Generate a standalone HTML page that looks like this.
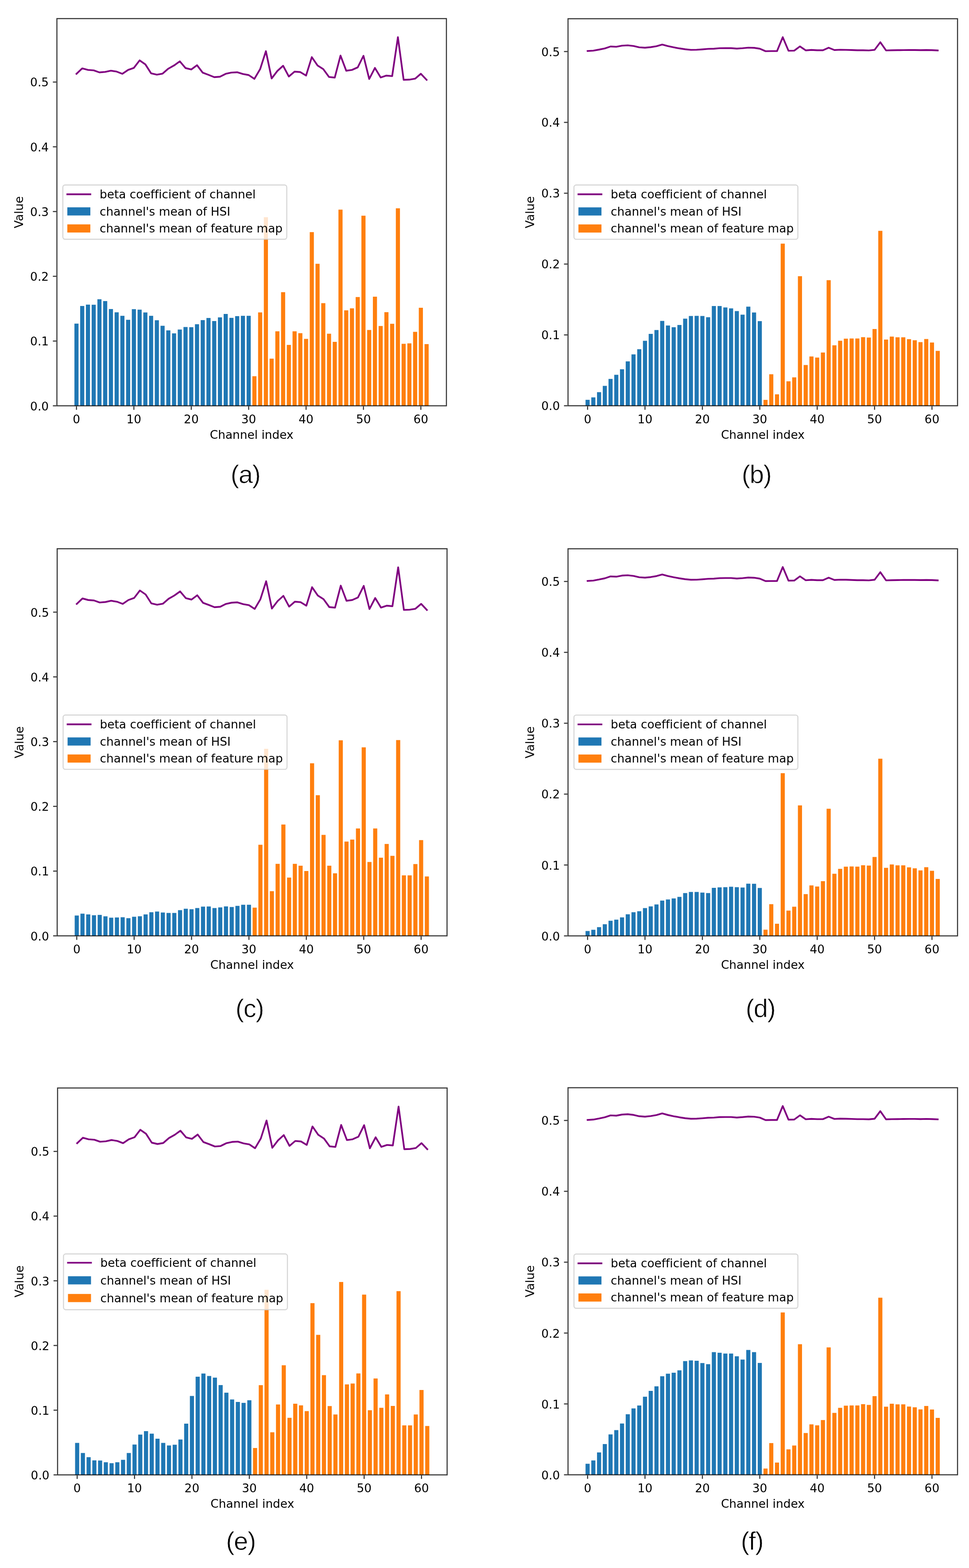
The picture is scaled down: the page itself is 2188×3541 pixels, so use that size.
<!DOCTYPE html>
<html><head><meta charset="utf-8"><title>Channel statistics</title>
<style>
html,body{margin:0;padding:0;background:#fff;}
body{width:2188px;height:3541px;overflow:hidden;}
svg{display:block;}
svg text{font-family:"DejaVu Sans","Liberation Sans",sans-serif;font-size:26.4px;fill:#000;font-variant-ligatures:none;}
svg text.cap{font-family:"Liberation Sans","DejaVu Sans",sans-serif;font-size:58px;letter-spacing:-1.4px;stroke:#fff;stroke-width:0.8px;}
</style></head>
<body>
<svg width="2188" height="3541" viewBox="0 0 2188 3541">
<rect width="2188" height="3541" fill="#fff"/>
<rect x="168.05" y="730.8" width="9.3" height="185.6" fill="#1f77b4"/>
<rect x="181.01" y="691" width="9.3" height="225.4" fill="#1f77b4"/>
<rect x="193.97" y="687.9" width="9.3" height="228.5" fill="#1f77b4"/>
<rect x="206.93" y="688.2" width="9.3" height="228.2" fill="#1f77b4"/>
<rect x="219.89" y="675.8" width="9.3" height="240.6" fill="#1f77b4"/>
<rect x="232.85" y="679.9" width="9.3" height="236.5" fill="#1f77b4"/>
<rect x="245.81" y="697.9" width="9.3" height="218.5" fill="#1f77b4"/>
<rect x="258.77" y="705.3" width="9.3" height="211.1" fill="#1f77b4"/>
<rect x="271.73" y="713.2" width="9.3" height="203.2" fill="#1f77b4"/>
<rect x="284.69" y="722.2" width="9.3" height="194.2" fill="#1f77b4"/>
<rect x="297.65" y="698.2" width="9.3" height="218.2" fill="#1f77b4"/>
<rect x="310.61" y="699.3" width="9.3" height="217.1" fill="#1f77b4"/>
<rect x="323.57" y="705.6" width="9.3" height="210.8" fill="#1f77b4"/>
<rect x="336.53" y="713.2" width="9.3" height="203.2" fill="#1f77b4"/>
<rect x="349.49" y="723.2" width="9.3" height="193.2" fill="#1f77b4"/>
<rect x="362.45" y="735.7" width="9.3" height="180.7" fill="#1f77b4"/>
<rect x="375.41" y="746.1" width="9.3" height="170.3" fill="#1f77b4"/>
<rect x="388.37" y="752.8" width="9.3" height="163.6" fill="#1f77b4"/>
<rect x="401.33" y="744.2" width="9.3" height="172.2" fill="#1f77b4"/>
<rect x="414.29" y="738.5" width="9.3" height="177.9" fill="#1f77b4"/>
<rect x="427.25" y="738.9" width="9.3" height="177.5" fill="#1f77b4"/>
<rect x="440.21" y="732.2" width="9.3" height="184.2" fill="#1f77b4"/>
<rect x="453.17" y="722.9" width="9.3" height="193.5" fill="#1f77b4"/>
<rect x="466.13" y="718.1" width="9.3" height="198.3" fill="#1f77b4"/>
<rect x="479.09" y="725" width="9.3" height="191.4" fill="#1f77b4"/>
<rect x="492.05" y="716.7" width="9.3" height="199.7" fill="#1f77b4"/>
<rect x="505.01" y="709" width="9.3" height="207.4" fill="#1f77b4"/>
<rect x="517.97" y="717.8" width="9.3" height="198.6" fill="#1f77b4"/>
<rect x="530.93" y="713.9" width="9.3" height="202.5" fill="#1f77b4"/>
<rect x="543.89" y="713.2" width="9.3" height="203.2" fill="#1f77b4"/>
<rect x="556.85" y="713.2" width="9.3" height="203.2" fill="#1f77b4"/>
<rect x="569.81" y="849.6" width="9.3" height="66.8" fill="#ff7f0e"/>
<rect x="582.77" y="705.5" width="9.3" height="210.9" fill="#ff7f0e"/>
<rect x="595.73" y="490.5" width="9.3" height="425.9" fill="#ff7f0e"/>
<rect x="608.69" y="809.9" width="9.3" height="106.5" fill="#ff7f0e"/>
<rect x="621.65" y="748.2" width="9.3" height="168.2" fill="#ff7f0e"/>
<rect x="634.61" y="659.8" width="9.3" height="256.6" fill="#ff7f0e"/>
<rect x="647.57" y="778.9" width="9.3" height="137.5" fill="#ff7f0e"/>
<rect x="660.53" y="748.2" width="9.3" height="168.2" fill="#ff7f0e"/>
<rect x="673.49" y="752.4" width="9.3" height="164" fill="#ff7f0e"/>
<rect x="686.45" y="765.3" width="9.3" height="151.1" fill="#ff7f0e"/>
<rect x="699.41" y="524.2" width="9.3" height="392.2" fill="#ff7f0e"/>
<rect x="712.37" y="595.7" width="9.3" height="320.7" fill="#ff7f0e"/>
<rect x="725.33" y="684.6" width="9.3" height="231.8" fill="#ff7f0e"/>
<rect x="738.29" y="753.6" width="9.3" height="162.8" fill="#ff7f0e"/>
<rect x="751.25" y="772" width="9.3" height="144.4" fill="#ff7f0e"/>
<rect x="764.21" y="473.4" width="9.3" height="443" fill="#ff7f0e"/>
<rect x="777.17" y="700.8" width="9.3" height="215.6" fill="#ff7f0e"/>
<rect x="790.13" y="696.3" width="9.3" height="220.1" fill="#ff7f0e"/>
<rect x="803.09" y="670.8" width="9.3" height="245.6" fill="#ff7f0e"/>
<rect x="816.05" y="487.1" width="9.3" height="429.3" fill="#ff7f0e"/>
<rect x="829.01" y="745.2" width="9.3" height="171.2" fill="#ff7f0e"/>
<rect x="841.97" y="670" width="9.3" height="246.4" fill="#ff7f0e"/>
<rect x="854.93" y="736.2" width="9.3" height="180.2" fill="#ff7f0e"/>
<rect x="867.89" y="705" width="9.3" height="211.4" fill="#ff7f0e"/>
<rect x="880.85" y="731.2" width="9.3" height="185.2" fill="#ff7f0e"/>
<rect x="893.81" y="470.4" width="9.3" height="446" fill="#ff7f0e"/>
<rect x="906.77" y="776.4" width="9.3" height="140" fill="#ff7f0e"/>
<rect x="919.73" y="775.4" width="9.3" height="141" fill="#ff7f0e"/>
<rect x="932.69" y="749.4" width="9.3" height="167" fill="#ff7f0e"/>
<rect x="945.65" y="695" width="9.3" height="221.4" fill="#ff7f0e"/>
<rect x="958.61" y="777.1" width="9.3" height="139.3" fill="#ff7f0e"/>
<polyline points="172.7,166.7 185.66,154.4 198.62,157.9 211.58,158.9 224.54,163.5 237.5,162.4 250.46,159.6 263.42,161.7 276.38,166.7 289.34,157.9 302.3,153.3 315.26,136.4 328.22,145.4 341.18,165.6 354.14,168.6 367.1,166.3 380.06,155.1 393.02,147.8 405.98,138.5 418.94,153.75 431.9,156.9 444.86,147.2 457.82,164.2 470.78,169 483.74,174.2 496.7,173.2 509.66,166.7 522.62,163.9 535.58,163.2 548.54,167.2 561.5,169.5 574.46,178.1 587.42,156.1 600.38,115.5 613.34,177.2 626.3,160.3 639.26,148.5 652.22,172.8 665.18,161.7 678.14,162.8 691.1,170.7 704.06,129 717.02,147.8 729.98,156.1 742.94,173.9 755.9,175.2 768.86,125.5 781.82,159.7 794.78,157.9 807.74,152.1 820.7,126 833.66,178.3 846.62,153.4 859.58,175 872.54,170.7 885.5,171.9 898.46,84 911.42,180.3 924.38,179.8 937.34,177.7 950.3,166.6 963.26,180.3" fill="none" stroke="#800080" stroke-width="3.9" stroke-linejoin="round" stroke-linecap="square"/>
<rect x="128.5" y="42" width="879.5" height="874.4" fill="none" stroke="#000" stroke-opacity="0.8" stroke-width="2.4" stroke-linejoin="miter"/>
<line x1="172.7" y1="917.6" x2="172.7" y2="925.5" stroke="#000" stroke-opacity="0.8" stroke-width="2.4"/>
<text x="172.7" y="956" text-anchor="middle">0</text>
<line x1="302.3" y1="917.6" x2="302.3" y2="925.5" stroke="#000" stroke-opacity="0.8" stroke-width="2.4"/>
<text x="302.3" y="956" text-anchor="middle">10</text>
<line x1="431.9" y1="917.6" x2="431.9" y2="925.5" stroke="#000" stroke-opacity="0.8" stroke-width="2.4"/>
<text x="431.9" y="956" text-anchor="middle">20</text>
<line x1="561.5" y1="917.6" x2="561.5" y2="925.5" stroke="#000" stroke-opacity="0.8" stroke-width="2.4"/>
<text x="561.5" y="956" text-anchor="middle">30</text>
<line x1="691.1" y1="917.6" x2="691.1" y2="925.5" stroke="#000" stroke-opacity="0.8" stroke-width="2.4"/>
<text x="691.1" y="956" text-anchor="middle">40</text>
<line x1="820.7" y1="917.6" x2="820.7" y2="925.5" stroke="#000" stroke-opacity="0.8" stroke-width="2.4"/>
<text x="820.7" y="956" text-anchor="middle">50</text>
<line x1="950.3" y1="917.6" x2="950.3" y2="925.5" stroke="#000" stroke-opacity="0.8" stroke-width="2.4"/>
<text x="950.3" y="956" text-anchor="middle">60</text>
<line x1="119.4" y1="916.4" x2="127.3" y2="916.4" stroke="#000" stroke-opacity="0.8" stroke-width="2.4"/>
<text x="110.1" y="926.5" text-anchor="end">0.0</text>
<line x1="119.4" y1="770.18" x2="127.3" y2="770.18" stroke="#000" stroke-opacity="0.8" stroke-width="2.4"/>
<text x="110.1" y="780.28" text-anchor="end">0.1</text>
<line x1="119.4" y1="623.96" x2="127.3" y2="623.96" stroke="#000" stroke-opacity="0.8" stroke-width="2.4"/>
<text x="110.1" y="634.06" text-anchor="end">0.2</text>
<line x1="119.4" y1="477.74" x2="127.3" y2="477.74" stroke="#000" stroke-opacity="0.8" stroke-width="2.4"/>
<text x="110.1" y="487.84" text-anchor="end">0.3</text>
<line x1="119.4" y1="331.52" x2="127.3" y2="331.52" stroke="#000" stroke-opacity="0.8" stroke-width="2.4"/>
<text x="110.1" y="341.62" text-anchor="end">0.4</text>
<line x1="119.4" y1="185.3" x2="127.3" y2="185.3" stroke="#000" stroke-opacity="0.8" stroke-width="2.4"/>
<text x="110.1" y="195.4" text-anchor="end">0.5</text>
<text x="568.25" y="991" text-anchor="middle">Channel index</text>
<text transform="translate(51.9 479.2) rotate(-90)" text-anchor="middle">Value</text>
<rect x="141.9" y="417.7" width="505.6" height="122.6" rx="5.2" ry="5.2" fill="#fff" fill-opacity="0.8" stroke="#ccc" stroke-opacity="0.8" stroke-width="2.4"/>
<line x1="152" y1="438.7" x2="204" y2="438.7" stroke="#800080" stroke-width="3.9" stroke-linecap="square"/>
<rect x="152" y="468.2" width="52" height="18.4" fill="#1f77b4"/>
<rect x="152" y="506.7" width="52" height="18.4" fill="#ff7f0e"/>
<text x="224.9" y="448.2">beta coefficient of channel</text>
<text x="224.9" y="486.6">channel's mean of HSI</text>
<text x="224.9" y="525.1">channel's mean of feature map</text>
<text class="cap" x="554.2" y="1090.6" text-anchor="middle">(a)</text>
<rect x="1322.15" y="902.9" width="9.3" height="13.4" fill="#1f77b4"/>
<rect x="1335.11" y="897.4" width="9.3" height="18.9" fill="#1f77b4"/>
<rect x="1348.07" y="885.6" width="9.3" height="30.7" fill="#1f77b4"/>
<rect x="1361.03" y="871.4" width="9.3" height="44.9" fill="#1f77b4"/>
<rect x="1373.99" y="855.7" width="9.3" height="60.6" fill="#1f77b4"/>
<rect x="1386.95" y="846.4" width="9.3" height="69.9" fill="#1f77b4"/>
<rect x="1399.91" y="833.9" width="9.3" height="82.4" fill="#1f77b4"/>
<rect x="1412.87" y="816.1" width="9.3" height="100.2" fill="#1f77b4"/>
<rect x="1425.83" y="800.3" width="9.3" height="116" fill="#1f77b4"/>
<rect x="1438.79" y="788.6" width="9.3" height="127.7" fill="#1f77b4"/>
<rect x="1451.75" y="769.6" width="9.3" height="146.7" fill="#1f77b4"/>
<rect x="1464.71" y="754" width="9.3" height="162.3" fill="#1f77b4"/>
<rect x="1477.67" y="745.3" width="9.3" height="171" fill="#1f77b4"/>
<rect x="1490.63" y="724.7" width="9.3" height="191.6" fill="#1f77b4"/>
<rect x="1503.59" y="735.1" width="9.3" height="181.2" fill="#1f77b4"/>
<rect x="1516.55" y="739" width="9.3" height="177.3" fill="#1f77b4"/>
<rect x="1529.51" y="733.9" width="9.3" height="182.4" fill="#1f77b4"/>
<rect x="1542.47" y="719.6" width="9.3" height="196.7" fill="#1f77b4"/>
<rect x="1555.43" y="713.6" width="9.3" height="202.7" fill="#1f77b4"/>
<rect x="1568.39" y="713.3" width="9.3" height="203" fill="#1f77b4"/>
<rect x="1581.35" y="713.6" width="9.3" height="202.7" fill="#1f77b4"/>
<rect x="1594.31" y="716.4" width="9.3" height="199.9" fill="#1f77b4"/>
<rect x="1607.27" y="691.1" width="9.3" height="225.2" fill="#1f77b4"/>
<rect x="1620.23" y="691.1" width="9.3" height="225.2" fill="#1f77b4"/>
<rect x="1633.19" y="694.3" width="9.3" height="222" fill="#1f77b4"/>
<rect x="1646.15" y="696.4" width="9.3" height="219.9" fill="#1f77b4"/>
<rect x="1659.11" y="702.5" width="9.3" height="213.8" fill="#1f77b4"/>
<rect x="1672.07" y="710.6" width="9.3" height="205.7" fill="#1f77b4"/>
<rect x="1685.03" y="692.5" width="9.3" height="223.8" fill="#1f77b4"/>
<rect x="1697.99" y="705.7" width="9.3" height="210.6" fill="#1f77b4"/>
<rect x="1710.95" y="725.2" width="9.3" height="191.1" fill="#1f77b4"/>
<rect x="1723.91" y="903" width="9.3" height="13.3" fill="#ff7f0e"/>
<rect x="1736.87" y="845.2" width="9.3" height="71.1" fill="#ff7f0e"/>
<rect x="1749.83" y="890.5" width="9.3" height="25.8" fill="#ff7f0e"/>
<rect x="1762.79" y="550.2" width="9.3" height="366.1" fill="#ff7f0e"/>
<rect x="1775.75" y="861.1" width="9.3" height="55.2" fill="#ff7f0e"/>
<rect x="1788.71" y="852.2" width="9.3" height="64.1" fill="#ff7f0e"/>
<rect x="1801.67" y="623.7" width="9.3" height="292.6" fill="#ff7f0e"/>
<rect x="1814.63" y="824.3" width="9.3" height="92" fill="#ff7f0e"/>
<rect x="1827.59" y="805" width="9.3" height="111.3" fill="#ff7f0e"/>
<rect x="1840.55" y="807.5" width="9.3" height="108.8" fill="#ff7f0e"/>
<rect x="1853.51" y="796.1" width="9.3" height="120.2" fill="#ff7f0e"/>
<rect x="1866.47" y="632.7" width="9.3" height="283.6" fill="#ff7f0e"/>
<rect x="1879.43" y="779.8" width="9.3" height="136.5" fill="#ff7f0e"/>
<rect x="1892.39" y="769.5" width="9.3" height="146.8" fill="#ff7f0e"/>
<rect x="1905.35" y="764.8" width="9.3" height="151.5" fill="#ff7f0e"/>
<rect x="1918.31" y="764.4" width="9.3" height="151.9" fill="#ff7f0e"/>
<rect x="1931.27" y="764.4" width="9.3" height="151.9" fill="#ff7f0e"/>
<rect x="1944.23" y="761.4" width="9.3" height="154.9" fill="#ff7f0e"/>
<rect x="1957.19" y="762.3" width="9.3" height="154" fill="#ff7f0e"/>
<rect x="1970.15" y="743" width="9.3" height="173.3" fill="#ff7f0e"/>
<rect x="1983.11" y="521.3" width="9.3" height="395" fill="#ff7f0e"/>
<rect x="1996.07" y="766.8" width="9.3" height="149.5" fill="#ff7f0e"/>
<rect x="2009.03" y="760.1" width="9.3" height="156.2" fill="#ff7f0e"/>
<rect x="2021.99" y="761.7" width="9.3" height="154.6" fill="#ff7f0e"/>
<rect x="2034.95" y="761.7" width="9.3" height="154.6" fill="#ff7f0e"/>
<rect x="2047.91" y="765.9" width="9.3" height="150.4" fill="#ff7f0e"/>
<rect x="2060.87" y="768.4" width="9.3" height="147.9" fill="#ff7f0e"/>
<rect x="2073.83" y="772.6" width="9.3" height="143.7" fill="#ff7f0e"/>
<rect x="2086.79" y="765.6" width="9.3" height="150.7" fill="#ff7f0e"/>
<rect x="2099.75" y="773.5" width="9.3" height="142.8" fill="#ff7f0e"/>
<rect x="2112.71" y="792.4" width="9.3" height="123.9" fill="#ff7f0e"/>
<polyline points="1326.8,115.2 1339.76,114.4 1352.72,112 1365.68,109.3 1378.64,105 1391.6,105.6 1404.56,103.1 1417.52,102.4 1430.48,103.9 1443.44,106.9 1456.4,107.8 1469.36,106.5 1482.32,104.3 1495.28,100.6 1508.24,104.1 1521.2,106.9 1534.16,109.3 1547.12,111.3 1560.08,112.6 1573.04,112.4 1586,111.5 1598.96,110.4 1611.92,110 1624.88,108.9 1637.84,108.7 1650.8,108.7 1663.76,109.8 1676.72,108.9 1689.68,107.6 1702.64,108 1715.6,110 1728.56,115.6 1741.52,115.4 1754.48,115.4 1767.44,83.9 1780.4,114.6 1793.36,114.4 1806.32,104.8 1819.28,113.7 1832.24,112.8 1845.2,113.5 1858.16,113.5 1871.12,107.8 1884.08,113 1897.04,112.4 1910,112.6 1922.96,113 1935.92,113.5 1948.88,113.5 1961.84,113.9 1974.8,112.6 1987.76,95.4 2000.72,113.9 2013.68,113.5 2026.64,113.3 2039.6,113.1 2052.56,113 2065.52,113 2078.48,113.3 2091.44,113 2104.4,113.3 2117.36,113.9" fill="none" stroke="#800080" stroke-width="3.9" stroke-linejoin="round" stroke-linecap="square"/>
<rect x="1282.6" y="42.3" width="879.5" height="874" fill="none" stroke="#000" stroke-opacity="0.8" stroke-width="2.4" stroke-linejoin="miter"/>
<line x1="1326.8" y1="917.5" x2="1326.8" y2="925.4" stroke="#000" stroke-opacity="0.8" stroke-width="2.4"/>
<text x="1326.8" y="955.9" text-anchor="middle">0</text>
<line x1="1456.4" y1="917.5" x2="1456.4" y2="925.4" stroke="#000" stroke-opacity="0.8" stroke-width="2.4"/>
<text x="1456.4" y="955.9" text-anchor="middle">10</text>
<line x1="1586" y1="917.5" x2="1586" y2="925.4" stroke="#000" stroke-opacity="0.8" stroke-width="2.4"/>
<text x="1586" y="955.9" text-anchor="middle">20</text>
<line x1="1715.6" y1="917.5" x2="1715.6" y2="925.4" stroke="#000" stroke-opacity="0.8" stroke-width="2.4"/>
<text x="1715.6" y="955.9" text-anchor="middle">30</text>
<line x1="1845.2" y1="917.5" x2="1845.2" y2="925.4" stroke="#000" stroke-opacity="0.8" stroke-width="2.4"/>
<text x="1845.2" y="955.9" text-anchor="middle">40</text>
<line x1="1974.8" y1="917.5" x2="1974.8" y2="925.4" stroke="#000" stroke-opacity="0.8" stroke-width="2.4"/>
<text x="1974.8" y="955.9" text-anchor="middle">50</text>
<line x1="2104.4" y1="917.5" x2="2104.4" y2="925.4" stroke="#000" stroke-opacity="0.8" stroke-width="2.4"/>
<text x="2104.4" y="955.9" text-anchor="middle">60</text>
<line x1="1273.5" y1="916.3" x2="1281.4" y2="916.3" stroke="#000" stroke-opacity="0.8" stroke-width="2.4"/>
<text x="1264.2" y="926.4" text-anchor="end">0.0</text>
<line x1="1273.5" y1="756.32" x2="1281.4" y2="756.32" stroke="#000" stroke-opacity="0.8" stroke-width="2.4"/>
<text x="1264.2" y="766.42" text-anchor="end">0.1</text>
<line x1="1273.5" y1="596.34" x2="1281.4" y2="596.34" stroke="#000" stroke-opacity="0.8" stroke-width="2.4"/>
<text x="1264.2" y="606.44" text-anchor="end">0.2</text>
<line x1="1273.5" y1="436.36" x2="1281.4" y2="436.36" stroke="#000" stroke-opacity="0.8" stroke-width="2.4"/>
<text x="1264.2" y="446.46" text-anchor="end">0.3</text>
<line x1="1273.5" y1="276.38" x2="1281.4" y2="276.38" stroke="#000" stroke-opacity="0.8" stroke-width="2.4"/>
<text x="1264.2" y="286.48" text-anchor="end">0.4</text>
<line x1="1273.5" y1="116.4" x2="1281.4" y2="116.4" stroke="#000" stroke-opacity="0.8" stroke-width="2.4"/>
<text x="1264.2" y="126.5" text-anchor="end">0.5</text>
<text x="1722.35" y="990.9" text-anchor="middle">Channel index</text>
<text transform="translate(1206 479.3) rotate(-90)" text-anchor="middle">Value</text>
<rect x="1296" y="417.8" width="505.6" height="122.6" rx="5.2" ry="5.2" fill="#fff" fill-opacity="0.8" stroke="#ccc" stroke-opacity="0.8" stroke-width="2.4"/>
<line x1="1306.1" y1="438.8" x2="1358.1" y2="438.8" stroke="#800080" stroke-width="3.9" stroke-linecap="square"/>
<rect x="1306.1" y="468.3" width="52" height="18.4" fill="#1f77b4"/>
<rect x="1306.1" y="506.8" width="52" height="18.4" fill="#ff7f0e"/>
<text x="1379" y="448.3">beta coefficient of channel</text>
<text x="1379" y="486.7">channel's mean of HSI</text>
<text x="1379" y="525.2">channel's mean of feature map</text>
<text class="cap" x="1708.1" y="1090.6" text-anchor="middle">(b)</text>
<rect x="168.65" y="2067.5" width="9.3" height="45.9" fill="#1f77b4"/>
<rect x="181.61" y="2063.3" width="9.3" height="50.1" fill="#1f77b4"/>
<rect x="194.57" y="2065" width="9.3" height="48.4" fill="#1f77b4"/>
<rect x="207.53" y="2066.9" width="9.3" height="46.5" fill="#1f77b4"/>
<rect x="220.49" y="2066.1" width="9.3" height="47.3" fill="#1f77b4"/>
<rect x="233.45" y="2069.3" width="9.3" height="44.1" fill="#1f77b4"/>
<rect x="246.41" y="2072.4" width="9.3" height="41" fill="#1f77b4"/>
<rect x="259.37" y="2071.9" width="9.3" height="41.5" fill="#1f77b4"/>
<rect x="272.33" y="2071.4" width="9.3" height="42" fill="#1f77b4"/>
<rect x="285.29" y="2073.5" width="9.3" height="39.9" fill="#1f77b4"/>
<rect x="298.25" y="2070.3" width="9.3" height="43.1" fill="#1f77b4"/>
<rect x="311.21" y="2069.2" width="9.3" height="44.2" fill="#1f77b4"/>
<rect x="324.17" y="2065" width="9.3" height="48.4" fill="#1f77b4"/>
<rect x="337.13" y="2060.1" width="9.3" height="53.3" fill="#1f77b4"/>
<rect x="350.09" y="2058.5" width="9.3" height="54.9" fill="#1f77b4"/>
<rect x="363.05" y="2060.7" width="9.3" height="52.7" fill="#1f77b4"/>
<rect x="376.01" y="2061.7" width="9.3" height="51.7" fill="#1f77b4"/>
<rect x="388.97" y="2061.7" width="9.3" height="51.7" fill="#1f77b4"/>
<rect x="401.93" y="2055.4" width="9.3" height="58" fill="#1f77b4"/>
<rect x="414.89" y="2052.2" width="9.3" height="61.2" fill="#1f77b4"/>
<rect x="427.85" y="2053.3" width="9.3" height="60.1" fill="#1f77b4"/>
<rect x="440.81" y="2050.6" width="9.3" height="62.8" fill="#1f77b4"/>
<rect x="453.77" y="2047.4" width="9.3" height="66" fill="#1f77b4"/>
<rect x="466.73" y="2047.1" width="9.3" height="66.3" fill="#1f77b4"/>
<rect x="479.69" y="2050.6" width="9.3" height="62.8" fill="#1f77b4"/>
<rect x="492.65" y="2049.2" width="9.3" height="64.2" fill="#1f77b4"/>
<rect x="505.61" y="2046.9" width="9.3" height="66.5" fill="#1f77b4"/>
<rect x="518.57" y="2048.3" width="9.3" height="65.1" fill="#1f77b4"/>
<rect x="531.53" y="2045.7" width="9.3" height="67.7" fill="#1f77b4"/>
<rect x="544.49" y="2043.2" width="9.3" height="70.2" fill="#1f77b4"/>
<rect x="557.45" y="2043.2" width="9.3" height="70.2" fill="#1f77b4"/>
<rect x="570.41" y="2049.7" width="9.3" height="63.7" fill="#ff7f0e"/>
<rect x="583.37" y="1907.7" width="9.3" height="205.7" fill="#ff7f0e"/>
<rect x="596.33" y="1691" width="9.3" height="422.4" fill="#ff7f0e"/>
<rect x="609.29" y="2012.5" width="9.3" height="100.9" fill="#ff7f0e"/>
<rect x="622.25" y="1950.8" width="9.3" height="162.6" fill="#ff7f0e"/>
<rect x="635.21" y="1862" width="9.3" height="251.4" fill="#ff7f0e"/>
<rect x="648.17" y="1981.8" width="9.3" height="131.6" fill="#ff7f0e"/>
<rect x="661.13" y="1950.8" width="9.3" height="162.6" fill="#ff7f0e"/>
<rect x="674.09" y="1955" width="9.3" height="158.4" fill="#ff7f0e"/>
<rect x="687.05" y="1967" width="9.3" height="146.4" fill="#ff7f0e"/>
<rect x="700.01" y="1723.7" width="9.3" height="389.7" fill="#ff7f0e"/>
<rect x="712.97" y="1795.8" width="9.3" height="317.6" fill="#ff7f0e"/>
<rect x="725.93" y="1885.4" width="9.3" height="228" fill="#ff7f0e"/>
<rect x="738.89" y="1955" width="9.3" height="158.4" fill="#ff7f0e"/>
<rect x="751.85" y="1972.2" width="9.3" height="141.2" fill="#ff7f0e"/>
<rect x="764.81" y="1671.8" width="9.3" height="441.6" fill="#ff7f0e"/>
<rect x="777.77" y="1900.5" width="9.3" height="212.9" fill="#ff7f0e"/>
<rect x="790.73" y="1896" width="9.3" height="217.4" fill="#ff7f0e"/>
<rect x="803.69" y="1870.9" width="9.3" height="242.5" fill="#ff7f0e"/>
<rect x="816.65" y="1687.7" width="9.3" height="425.7" fill="#ff7f0e"/>
<rect x="829.61" y="1946.6" width="9.3" height="166.8" fill="#ff7f0e"/>
<rect x="842.57" y="1870.9" width="9.3" height="242.5" fill="#ff7f0e"/>
<rect x="855.53" y="1936.9" width="9.3" height="176.5" fill="#ff7f0e"/>
<rect x="868.49" y="1905.9" width="9.3" height="207.5" fill="#ff7f0e"/>
<rect x="881.45" y="1932.7" width="9.3" height="180.7" fill="#ff7f0e"/>
<rect x="894.41" y="1671.3" width="9.3" height="442.1" fill="#ff7f0e"/>
<rect x="907.37" y="1976.8" width="9.3" height="136.6" fill="#ff7f0e"/>
<rect x="920.33" y="1976.8" width="9.3" height="136.6" fill="#ff7f0e"/>
<rect x="933.29" y="1951.3" width="9.3" height="162.1" fill="#ff7f0e"/>
<rect x="946.25" y="1897.2" width="9.3" height="216.2" fill="#ff7f0e"/>
<rect x="959.21" y="1979.3" width="9.3" height="134.1" fill="#ff7f0e"/>
<polyline points="173.3,1363.8 186.26,1351.5 199.22,1355 212.18,1356 225.14,1360.6 238.1,1359.5 251.06,1356.7 264.02,1358.8 276.98,1363.8 289.94,1355 302.9,1350.4 315.86,1333.51 328.82,1342.51 341.78,1362.7 354.74,1365.7 367.7,1363.4 380.66,1352.2 393.62,1344.91 406.58,1335.61 419.54,1350.85 432.5,1354 445.46,1344.31 458.42,1361.3 471.38,1366.1 484.34,1371.3 497.3,1370.3 510.26,1363.8 523.22,1361 536.18,1360.3 549.14,1364.3 562.1,1366.6 575.06,1375.2 588.02,1353.2 600.98,1312.61 613.94,1374.3 626.9,1357.4 639.86,1345.61 652.82,1369.9 665.78,1358.8 678.74,1359.9 691.7,1367.8 704.66,1326.11 717.62,1344.91 730.58,1353.2 743.54,1371 756.5,1372.3 769.46,1322.61 782.42,1356.8 795.38,1355 808.34,1349.2 821.3,1323.11 834.26,1375.4 847.22,1350.5 860.18,1372.1 873.14,1367.8 886.1,1369 899.06,1281.11 912.02,1377.4 924.98,1376.9 937.94,1374.8 950.9,1363.7 963.86,1377.4" fill="none" stroke="#800080" stroke-width="3.9" stroke-linejoin="round" stroke-linecap="square"/>
<rect x="129.1" y="1239.2" width="880.3" height="874.2" fill="none" stroke="#000" stroke-opacity="0.8" stroke-width="2.4" stroke-linejoin="miter"/>
<line x1="173.3" y1="2114.6" x2="173.3" y2="2122.5" stroke="#000" stroke-opacity="0.8" stroke-width="2.4"/>
<text x="173.3" y="2153" text-anchor="middle">0</text>
<line x1="302.9" y1="2114.6" x2="302.9" y2="2122.5" stroke="#000" stroke-opacity="0.8" stroke-width="2.4"/>
<text x="302.9" y="2153" text-anchor="middle">10</text>
<line x1="432.5" y1="2114.6" x2="432.5" y2="2122.5" stroke="#000" stroke-opacity="0.8" stroke-width="2.4"/>
<text x="432.5" y="2153" text-anchor="middle">20</text>
<line x1="562.1" y1="2114.6" x2="562.1" y2="2122.5" stroke="#000" stroke-opacity="0.8" stroke-width="2.4"/>
<text x="562.1" y="2153" text-anchor="middle">30</text>
<line x1="691.7" y1="2114.6" x2="691.7" y2="2122.5" stroke="#000" stroke-opacity="0.8" stroke-width="2.4"/>
<text x="691.7" y="2153" text-anchor="middle">40</text>
<line x1="821.3" y1="2114.6" x2="821.3" y2="2122.5" stroke="#000" stroke-opacity="0.8" stroke-width="2.4"/>
<text x="821.3" y="2153" text-anchor="middle">50</text>
<line x1="950.9" y1="2114.6" x2="950.9" y2="2122.5" stroke="#000" stroke-opacity="0.8" stroke-width="2.4"/>
<text x="950.9" y="2153" text-anchor="middle">60</text>
<line x1="120" y1="2113.4" x2="127.9" y2="2113.4" stroke="#000" stroke-opacity="0.8" stroke-width="2.4"/>
<text x="110.7" y="2123.5" text-anchor="end">0.0</text>
<line x1="120" y1="1967.2" x2="127.9" y2="1967.2" stroke="#000" stroke-opacity="0.8" stroke-width="2.4"/>
<text x="110.7" y="1977.3" text-anchor="end">0.1</text>
<line x1="120" y1="1821" x2="127.9" y2="1821" stroke="#000" stroke-opacity="0.8" stroke-width="2.4"/>
<text x="110.7" y="1831.1" text-anchor="end">0.2</text>
<line x1="120" y1="1674.8" x2="127.9" y2="1674.8" stroke="#000" stroke-opacity="0.8" stroke-width="2.4"/>
<text x="110.7" y="1684.9" text-anchor="end">0.3</text>
<line x1="120" y1="1528.6" x2="127.9" y2="1528.6" stroke="#000" stroke-opacity="0.8" stroke-width="2.4"/>
<text x="110.7" y="1538.7" text-anchor="end">0.4</text>
<line x1="120" y1="1382.4" x2="127.9" y2="1382.4" stroke="#000" stroke-opacity="0.8" stroke-width="2.4"/>
<text x="110.7" y="1392.5" text-anchor="end">0.5</text>
<text x="569.25" y="2188" text-anchor="middle">Channel index</text>
<text transform="translate(52.5 1676.3) rotate(-90)" text-anchor="middle">Value</text>
<rect x="142.5" y="1614.8" width="505.6" height="122.6" rx="5.2" ry="5.2" fill="#fff" fill-opacity="0.8" stroke="#ccc" stroke-opacity="0.8" stroke-width="2.4"/>
<line x1="152.6" y1="1635.8" x2="204.6" y2="1635.8" stroke="#800080" stroke-width="3.9" stroke-linecap="square"/>
<rect x="152.6" y="1665.3" width="52" height="18.4" fill="#1f77b4"/>
<rect x="152.6" y="1703.8" width="52" height="18.4" fill="#ff7f0e"/>
<text x="225.5" y="1645.3">beta coefficient of channel</text>
<text x="225.5" y="1683.7">channel's mean of HSI</text>
<text x="225.5" y="1722.2">channel's mean of feature map</text>
<text class="cap" x="563.5" y="2296.5" text-anchor="middle">(c)</text>
<rect x="1322.15" y="2102.5" width="9.3" height="11" fill="#1f77b4"/>
<rect x="1335.11" y="2099.7" width="9.3" height="13.8" fill="#1f77b4"/>
<rect x="1348.07" y="2093.75" width="9.3" height="19.75" fill="#1f77b4"/>
<rect x="1361.03" y="2087.2" width="9.3" height="26.3" fill="#1f77b4"/>
<rect x="1373.99" y="2079.3" width="9.3" height="34.2" fill="#1f77b4"/>
<rect x="1386.95" y="2076.8" width="9.3" height="36.7" fill="#1f77b4"/>
<rect x="1399.91" y="2071.7" width="9.3" height="41.8" fill="#1f77b4"/>
<rect x="1412.87" y="2064.7" width="9.3" height="48.8" fill="#1f77b4"/>
<rect x="1425.83" y="2060.1" width="9.3" height="53.4" fill="#1f77b4"/>
<rect x="1438.79" y="2057.8" width="9.3" height="55.7" fill="#1f77b4"/>
<rect x="1451.75" y="2050.7" width="9.3" height="62.8" fill="#1f77b4"/>
<rect x="1464.71" y="2046.9" width="9.3" height="66.6" fill="#1f77b4"/>
<rect x="1477.67" y="2042.5" width="9.3" height="71" fill="#1f77b4"/>
<rect x="1490.63" y="2033.75" width="9.3" height="79.75" fill="#1f77b4"/>
<rect x="1503.59" y="2031.25" width="9.3" height="82.25" fill="#1f77b4"/>
<rect x="1516.55" y="2028.9" width="9.3" height="84.6" fill="#1f77b4"/>
<rect x="1529.51" y="2025.4" width="9.3" height="88.1" fill="#1f77b4"/>
<rect x="1542.47" y="2016.8" width="9.3" height="96.7" fill="#1f77b4"/>
<rect x="1555.43" y="2014.3" width="9.3" height="99.2" fill="#1f77b4"/>
<rect x="1568.39" y="2014.3" width="9.3" height="99.2" fill="#1f77b4"/>
<rect x="1581.35" y="2015.7" width="9.3" height="97.8" fill="#1f77b4"/>
<rect x="1594.31" y="2016.8" width="9.3" height="96.7" fill="#1f77b4"/>
<rect x="1607.27" y="2005" width="9.3" height="108.5" fill="#1f77b4"/>
<rect x="1620.23" y="2003.9" width="9.3" height="109.6" fill="#1f77b4"/>
<rect x="1633.19" y="2003.5" width="9.3" height="110" fill="#1f77b4"/>
<rect x="1646.15" y="2002.5" width="9.3" height="111" fill="#1f77b4"/>
<rect x="1659.11" y="2003.5" width="9.3" height="110" fill="#1f77b4"/>
<rect x="1672.07" y="2004.3" width="9.3" height="109.2" fill="#1f77b4"/>
<rect x="1685.03" y="1995.6" width="9.3" height="117.9" fill="#1f77b4"/>
<rect x="1697.99" y="1995.8" width="9.3" height="117.7" fill="#1f77b4"/>
<rect x="1710.95" y="2005.3" width="9.3" height="108.2" fill="#1f77b4"/>
<rect x="1723.91" y="2099.5" width="9.3" height="14" fill="#ff7f0e"/>
<rect x="1736.87" y="2041.9" width="9.3" height="71.6" fill="#ff7f0e"/>
<rect x="1749.83" y="2086.1" width="9.3" height="27.4" fill="#ff7f0e"/>
<rect x="1762.79" y="1746.1" width="9.3" height="367.4" fill="#ff7f0e"/>
<rect x="1775.75" y="2056.4" width="9.3" height="57.1" fill="#ff7f0e"/>
<rect x="1788.71" y="2047.6" width="9.3" height="65.9" fill="#ff7f0e"/>
<rect x="1801.67" y="1818.8" width="9.3" height="294.7" fill="#ff7f0e"/>
<rect x="1814.63" y="2019.2" width="9.3" height="94.3" fill="#ff7f0e"/>
<rect x="1827.59" y="1999.5" width="9.3" height="114" fill="#ff7f0e"/>
<rect x="1840.55" y="2002" width="9.3" height="111.5" fill="#ff7f0e"/>
<rect x="1853.51" y="1989.9" width="9.3" height="123.6" fill="#ff7f0e"/>
<rect x="1866.47" y="1826.4" width="9.3" height="287.1" fill="#ff7f0e"/>
<rect x="1879.43" y="1973.2" width="9.3" height="140.3" fill="#ff7f0e"/>
<rect x="1892.39" y="1962.1" width="9.3" height="151.4" fill="#ff7f0e"/>
<rect x="1905.35" y="1957.2" width="9.3" height="156.3" fill="#ff7f0e"/>
<rect x="1918.31" y="1956.7" width="9.3" height="156.8" fill="#ff7f0e"/>
<rect x="1931.27" y="1957.1" width="9.3" height="156.4" fill="#ff7f0e"/>
<rect x="1944.23" y="1954" width="9.3" height="159.5" fill="#ff7f0e"/>
<rect x="1957.19" y="1954.7" width="9.3" height="158.8" fill="#ff7f0e"/>
<rect x="1970.15" y="1935.3" width="9.3" height="178.2" fill="#ff7f0e"/>
<rect x="1983.11" y="1713.4" width="9.3" height="400.1" fill="#ff7f0e"/>
<rect x="1996.07" y="1959.8" width="9.3" height="153.7" fill="#ff7f0e"/>
<rect x="2009.03" y="1952.2" width="9.3" height="161.3" fill="#ff7f0e"/>
<rect x="2021.99" y="1954.2" width="9.3" height="159.3" fill="#ff7f0e"/>
<rect x="2034.95" y="1954.2" width="9.3" height="159.3" fill="#ff7f0e"/>
<rect x="2047.91" y="1958.7" width="9.3" height="154.8" fill="#ff7f0e"/>
<rect x="2060.87" y="1960.9" width="9.3" height="152.6" fill="#ff7f0e"/>
<rect x="2073.83" y="1965.6" width="9.3" height="147.9" fill="#ff7f0e"/>
<rect x="2086.79" y="1958.4" width="9.3" height="155.1" fill="#ff7f0e"/>
<rect x="2099.75" y="1966.5" width="9.3" height="147" fill="#ff7f0e"/>
<rect x="2112.71" y="1984.9" width="9.3" height="128.6" fill="#ff7f0e"/>
<polyline points="1326.8,1311.9 1339.76,1311.1 1352.72,1308.7 1365.68,1306 1378.64,1301.69 1391.6,1302.29 1404.56,1299.79 1417.52,1299.09 1430.48,1300.59 1443.44,1303.59 1456.4,1304.49 1469.36,1303.19 1482.32,1300.99 1495.28,1297.29 1508.24,1300.79 1521.2,1303.59 1534.16,1306 1547.12,1308 1560.08,1309.3 1573.04,1309.1 1586,1308.2 1598.96,1307.1 1611.92,1306.7 1624.88,1305.6 1637.84,1305.4 1650.8,1305.4 1663.76,1306.5 1676.72,1305.6 1689.68,1304.29 1702.64,1304.69 1715.6,1306.7 1728.56,1312.3 1741.52,1312.1 1754.48,1312.1 1767.44,1280.58 1780.4,1311.3 1793.36,1311.1 1806.32,1301.49 1819.28,1310.4 1832.24,1309.5 1845.2,1310.2 1858.16,1310.2 1871.12,1304.49 1884.08,1309.7 1897.04,1309.1 1910,1309.3 1922.96,1309.7 1935.92,1310.2 1948.88,1310.2 1961.84,1310.6 1974.8,1309.3 1987.76,1292.09 2000.72,1310.6 2013.68,1310.2 2026.64,1310 2039.6,1309.8 2052.56,1309.7 2065.52,1309.7 2078.48,1310 2091.44,1309.7 2104.4,1310 2117.36,1310.6" fill="none" stroke="#800080" stroke-width="3.9" stroke-linejoin="round" stroke-linecap="square"/>
<rect x="1282.6" y="1239.3" width="879.5" height="874.2" fill="none" stroke="#000" stroke-opacity="0.8" stroke-width="2.4" stroke-linejoin="miter"/>
<line x1="1326.8" y1="2114.7" x2="1326.8" y2="2122.6" stroke="#000" stroke-opacity="0.8" stroke-width="2.4"/>
<text x="1326.8" y="2153.1" text-anchor="middle">0</text>
<line x1="1456.4" y1="2114.7" x2="1456.4" y2="2122.6" stroke="#000" stroke-opacity="0.8" stroke-width="2.4"/>
<text x="1456.4" y="2153.1" text-anchor="middle">10</text>
<line x1="1586" y1="2114.7" x2="1586" y2="2122.6" stroke="#000" stroke-opacity="0.8" stroke-width="2.4"/>
<text x="1586" y="2153.1" text-anchor="middle">20</text>
<line x1="1715.6" y1="2114.7" x2="1715.6" y2="2122.6" stroke="#000" stroke-opacity="0.8" stroke-width="2.4"/>
<text x="1715.6" y="2153.1" text-anchor="middle">30</text>
<line x1="1845.2" y1="2114.7" x2="1845.2" y2="2122.6" stroke="#000" stroke-opacity="0.8" stroke-width="2.4"/>
<text x="1845.2" y="2153.1" text-anchor="middle">40</text>
<line x1="1974.8" y1="2114.7" x2="1974.8" y2="2122.6" stroke="#000" stroke-opacity="0.8" stroke-width="2.4"/>
<text x="1974.8" y="2153.1" text-anchor="middle">50</text>
<line x1="2104.4" y1="2114.7" x2="2104.4" y2="2122.6" stroke="#000" stroke-opacity="0.8" stroke-width="2.4"/>
<text x="2104.4" y="2153.1" text-anchor="middle">60</text>
<line x1="1273.5" y1="2113.5" x2="1281.4" y2="2113.5" stroke="#000" stroke-opacity="0.8" stroke-width="2.4"/>
<text x="1264.2" y="2123.6" text-anchor="end">0.0</text>
<line x1="1273.5" y1="1953.42" x2="1281.4" y2="1953.42" stroke="#000" stroke-opacity="0.8" stroke-width="2.4"/>
<text x="1264.2" y="1963.52" text-anchor="end">0.1</text>
<line x1="1273.5" y1="1793.34" x2="1281.4" y2="1793.34" stroke="#000" stroke-opacity="0.8" stroke-width="2.4"/>
<text x="1264.2" y="1803.44" text-anchor="end">0.2</text>
<line x1="1273.5" y1="1633.26" x2="1281.4" y2="1633.26" stroke="#000" stroke-opacity="0.8" stroke-width="2.4"/>
<text x="1264.2" y="1643.36" text-anchor="end">0.3</text>
<line x1="1273.5" y1="1473.18" x2="1281.4" y2="1473.18" stroke="#000" stroke-opacity="0.8" stroke-width="2.4"/>
<text x="1264.2" y="1483.28" text-anchor="end">0.4</text>
<line x1="1273.5" y1="1313.1" x2="1281.4" y2="1313.1" stroke="#000" stroke-opacity="0.8" stroke-width="2.4"/>
<text x="1264.2" y="1323.2" text-anchor="end">0.5</text>
<text x="1722.35" y="2188.1" text-anchor="middle">Channel index</text>
<text transform="translate(1206 1676.4) rotate(-90)" text-anchor="middle">Value</text>
<rect x="1296" y="1614.9" width="505.6" height="122.6" rx="5.2" ry="5.2" fill="#fff" fill-opacity="0.8" stroke="#ccc" stroke-opacity="0.8" stroke-width="2.4"/>
<line x1="1306.1" y1="1635.9" x2="1358.1" y2="1635.9" stroke="#800080" stroke-width="3.9" stroke-linecap="square"/>
<rect x="1306.1" y="1665.4" width="52" height="18.4" fill="#1f77b4"/>
<rect x="1306.1" y="1703.9" width="52" height="18.4" fill="#ff7f0e"/>
<text x="1379" y="1645.4">beta coefficient of channel</text>
<text x="1379" y="1683.8">channel's mean of HSI</text>
<text x="1379" y="1722.3">channel's mean of feature map</text>
<text class="cap" x="1717.2" y="2296.5" text-anchor="middle">(d)</text>
<rect x="169.55" y="3258.5" width="9.3" height="72.2" fill="#1f77b4"/>
<rect x="182.51" y="3281.3" width="9.3" height="49.4" fill="#1f77b4"/>
<rect x="195.47" y="3290.7" width="9.3" height="40" fill="#1f77b4"/>
<rect x="208.43" y="3297.9" width="9.3" height="32.8" fill="#1f77b4"/>
<rect x="221.39" y="3298.3" width="9.3" height="32.4" fill="#1f77b4"/>
<rect x="234.35" y="3302.2" width="9.3" height="28.5" fill="#1f77b4"/>
<rect x="247.31" y="3304.3" width="9.3" height="26.4" fill="#1f77b4"/>
<rect x="260.27" y="3302.2" width="9.3" height="28.5" fill="#1f77b4"/>
<rect x="273.23" y="3296.7" width="9.3" height="34" fill="#1f77b4"/>
<rect x="286.19" y="3281.3" width="9.3" height="49.4" fill="#1f77b4"/>
<rect x="299.15" y="3262.2" width="9.3" height="68.5" fill="#1f77b4"/>
<rect x="312.11" y="3239.7" width="9.3" height="91" fill="#1f77b4"/>
<rect x="325.07" y="3231.9" width="9.3" height="98.8" fill="#1f77b4"/>
<rect x="338.03" y="3237.6" width="9.3" height="93.1" fill="#1f77b4"/>
<rect x="350.99" y="3249" width="9.3" height="81.7" fill="#1f77b4"/>
<rect x="363.95" y="3258.5" width="9.3" height="72.2" fill="#1f77b4"/>
<rect x="376.91" y="3264.3" width="9.3" height="66.4" fill="#1f77b4"/>
<rect x="389.87" y="3262.6" width="9.3" height="68.1" fill="#1f77b4"/>
<rect x="402.83" y="3250.8" width="9.3" height="79.9" fill="#1f77b4"/>
<rect x="415.79" y="3215" width="9.3" height="115.7" fill="#1f77b4"/>
<rect x="428.75" y="3152.5" width="9.3" height="178.2" fill="#1f77b4"/>
<rect x="441.71" y="3109" width="9.3" height="221.7" fill="#1f77b4"/>
<rect x="454.67" y="3101.8" width="9.3" height="228.9" fill="#1f77b4"/>
<rect x="467.63" y="3107.4" width="9.3" height="223.3" fill="#1f77b4"/>
<rect x="480.59" y="3111.1" width="9.3" height="219.6" fill="#1f77b4"/>
<rect x="493.55" y="3127.9" width="9.3" height="202.8" fill="#1f77b4"/>
<rect x="506.51" y="3145.1" width="9.3" height="185.6" fill="#1f77b4"/>
<rect x="519.47" y="3160.4" width="9.3" height="170.3" fill="#1f77b4"/>
<rect x="532.43" y="3166" width="9.3" height="164.7" fill="#1f77b4"/>
<rect x="545.39" y="3168.1" width="9.3" height="162.6" fill="#1f77b4"/>
<rect x="558.35" y="3162.2" width="9.3" height="168.5" fill="#1f77b4"/>
<rect x="571.31" y="3270" width="9.3" height="60.7" fill="#ff7f0e"/>
<rect x="584.27" y="3128.1" width="9.3" height="202.6" fill="#ff7f0e"/>
<rect x="597.23" y="2912.7" width="9.3" height="418" fill="#ff7f0e"/>
<rect x="610.19" y="3234.5" width="9.3" height="96.2" fill="#ff7f0e"/>
<rect x="623.15" y="3171.7" width="9.3" height="159" fill="#ff7f0e"/>
<rect x="636.11" y="3083.2" width="9.3" height="247.5" fill="#ff7f0e"/>
<rect x="649.07" y="3201.8" width="9.3" height="128.9" fill="#ff7f0e"/>
<rect x="662.03" y="3170" width="9.3" height="160.7" fill="#ff7f0e"/>
<rect x="674.99" y="3173.7" width="9.3" height="157" fill="#ff7f0e"/>
<rect x="687.95" y="3186.7" width="9.3" height="144" fill="#ff7f0e"/>
<rect x="700.91" y="2942.9" width="9.3" height="387.8" fill="#ff7f0e"/>
<rect x="713.87" y="3014.5" width="9.3" height="316.2" fill="#ff7f0e"/>
<rect x="726.83" y="3105.5" width="9.3" height="225.2" fill="#ff7f0e"/>
<rect x="739.79" y="3175.3" width="9.3" height="155.4" fill="#ff7f0e"/>
<rect x="752.75" y="3194.3" width="9.3" height="136.4" fill="#ff7f0e"/>
<rect x="765.71" y="2895.1" width="9.3" height="435.6" fill="#ff7f0e"/>
<rect x="778.67" y="3126.4" width="9.3" height="204.3" fill="#ff7f0e"/>
<rect x="791.63" y="3124.4" width="9.3" height="206.3" fill="#ff7f0e"/>
<rect x="804.59" y="3101.6" width="9.3" height="229.1" fill="#ff7f0e"/>
<rect x="817.55" y="2923.6" width="9.3" height="407.1" fill="#ff7f0e"/>
<rect x="830.51" y="3184.7" width="9.3" height="146" fill="#ff7f0e"/>
<rect x="843.47" y="3113" width="9.3" height="217.7" fill="#ff7f0e"/>
<rect x="856.43" y="3179.2" width="9.3" height="151.5" fill="#ff7f0e"/>
<rect x="869.39" y="3149" width="9.3" height="181.7" fill="#ff7f0e"/>
<rect x="882.35" y="3175" width="9.3" height="155.7" fill="#ff7f0e"/>
<rect x="895.31" y="2915.8" width="9.3" height="414.9" fill="#ff7f0e"/>
<rect x="908.27" y="3218.9" width="9.3" height="111.8" fill="#ff7f0e"/>
<rect x="921.23" y="3218.9" width="9.3" height="111.8" fill="#ff7f0e"/>
<rect x="934.19" y="3194.3" width="9.3" height="136.4" fill="#ff7f0e"/>
<rect x="947.15" y="3139" width="9.3" height="191.7" fill="#ff7f0e"/>
<rect x="960.11" y="3220.3" width="9.3" height="110.4" fill="#ff7f0e"/>
<polyline points="174.2,2581.62 187.16,2569.33 200.12,2572.82 213.08,2573.82 226.04,2578.42 239,2577.32 251.96,2574.52 264.92,2576.62 277.88,2581.62 290.84,2572.82 303.8,2568.23 316.76,2551.34 329.72,2560.33 342.68,2580.52 355.64,2583.51 368.6,2581.22 381.56,2570.02 394.52,2562.73 407.48,2553.44 420.44,2568.68 433.4,2571.82 446.36,2562.13 459.32,2579.12 472.28,2583.91 485.24,2589.11 498.2,2588.11 511.16,2581.62 524.12,2578.82 537.08,2578.12 550.04,2582.11 563,2584.41 575.96,2593.01 588.92,2571.02 601.88,2530.46 614.84,2592.11 627.8,2575.22 640.76,2563.43 653.72,2587.71 666.68,2576.62 679.64,2577.72 692.6,2585.61 705.56,2543.95 718.52,2562.73 731.48,2571.02 744.44,2588.81 757.4,2590.11 770.36,2540.45 783.32,2574.62 796.28,2572.82 809.24,2567.03 822.2,2540.95 835.16,2593.21 848.12,2568.33 861.08,2589.91 874.04,2585.61 887,2586.81 899.96,2498.98 912.92,2595.2 925.88,2594.7 938.84,2592.61 951.8,2581.52 964.76,2595.2" fill="none" stroke="#800080" stroke-width="3.9" stroke-linejoin="round" stroke-linecap="square"/>
<rect x="130" y="2457" width="879.6" height="873.7" fill="none" stroke="#000" stroke-opacity="0.8" stroke-width="2.4" stroke-linejoin="miter"/>
<line x1="174.2" y1="3331.9" x2="174.2" y2="3339.8" stroke="#000" stroke-opacity="0.8" stroke-width="2.4"/>
<text x="174.2" y="3370.3" text-anchor="middle">0</text>
<line x1="303.8" y1="3331.9" x2="303.8" y2="3339.8" stroke="#000" stroke-opacity="0.8" stroke-width="2.4"/>
<text x="303.8" y="3370.3" text-anchor="middle">10</text>
<line x1="433.4" y1="3331.9" x2="433.4" y2="3339.8" stroke="#000" stroke-opacity="0.8" stroke-width="2.4"/>
<text x="433.4" y="3370.3" text-anchor="middle">20</text>
<line x1="563" y1="3331.9" x2="563" y2="3339.8" stroke="#000" stroke-opacity="0.8" stroke-width="2.4"/>
<text x="563" y="3370.3" text-anchor="middle">30</text>
<line x1="692.6" y1="3331.9" x2="692.6" y2="3339.8" stroke="#000" stroke-opacity="0.8" stroke-width="2.4"/>
<text x="692.6" y="3370.3" text-anchor="middle">40</text>
<line x1="822.2" y1="3331.9" x2="822.2" y2="3339.8" stroke="#000" stroke-opacity="0.8" stroke-width="2.4"/>
<text x="822.2" y="3370.3" text-anchor="middle">50</text>
<line x1="951.8" y1="3331.9" x2="951.8" y2="3339.8" stroke="#000" stroke-opacity="0.8" stroke-width="2.4"/>
<text x="951.8" y="3370.3" text-anchor="middle">60</text>
<line x1="120.9" y1="3330.7" x2="128.8" y2="3330.7" stroke="#000" stroke-opacity="0.8" stroke-width="2.4"/>
<text x="111.6" y="3340.8" text-anchor="end">0.0</text>
<line x1="120.9" y1="3184.6" x2="128.8" y2="3184.6" stroke="#000" stroke-opacity="0.8" stroke-width="2.4"/>
<text x="111.6" y="3194.7" text-anchor="end">0.1</text>
<line x1="120.9" y1="3038.5" x2="128.8" y2="3038.5" stroke="#000" stroke-opacity="0.8" stroke-width="2.4"/>
<text x="111.6" y="3048.6" text-anchor="end">0.2</text>
<line x1="120.9" y1="2892.4" x2="128.8" y2="2892.4" stroke="#000" stroke-opacity="0.8" stroke-width="2.4"/>
<text x="111.6" y="2902.5" text-anchor="end">0.3</text>
<line x1="120.9" y1="2746.3" x2="128.8" y2="2746.3" stroke="#000" stroke-opacity="0.8" stroke-width="2.4"/>
<text x="111.6" y="2756.4" text-anchor="end">0.4</text>
<line x1="120.9" y1="2600.2" x2="128.8" y2="2600.2" stroke="#000" stroke-opacity="0.8" stroke-width="2.4"/>
<text x="111.6" y="2610.3" text-anchor="end">0.5</text>
<text x="569.8" y="3405.3" text-anchor="middle">Channel index</text>
<text transform="translate(53.4 2893.85) rotate(-90)" text-anchor="middle">Value</text>
<rect x="143.4" y="2831.75" width="505.6" height="126" rx="5.2" ry="5.2" fill="#fff" fill-opacity="0.8" stroke="#ccc" stroke-opacity="0.8" stroke-width="2.4"/>
<line x1="153.5" y1="2851.65" x2="205.5" y2="2851.65" stroke="#800080" stroke-width="3.9" stroke-linecap="square"/>
<rect x="153.5" y="2882.15" width="52" height="18.4" fill="#1f77b4"/>
<rect x="153.5" y="2922.15" width="52" height="18.4" fill="#ff7f0e"/>
<text x="226.4" y="2861.15">beta coefficient of channel</text>
<text x="226.4" y="2900.55">channel's mean of HSI</text>
<text x="226.4" y="2940.55">channel's mean of feature map</text>
<text class="cap" x="543.5" y="3499.6" text-anchor="middle">(e)</text>
<rect x="1322.15" y="3305.6" width="9.3" height="24.9" fill="#1f77b4"/>
<rect x="1335.11" y="3298.1" width="9.3" height="32.4" fill="#1f77b4"/>
<rect x="1348.07" y="3280" width="9.3" height="50.5" fill="#1f77b4"/>
<rect x="1361.03" y="3261.1" width="9.3" height="69.4" fill="#1f77b4"/>
<rect x="1373.99" y="3239.3" width="9.3" height="91.2" fill="#1f77b4"/>
<rect x="1386.95" y="3229.6" width="9.3" height="100.9" fill="#1f77b4"/>
<rect x="1399.91" y="3214.7" width="9.3" height="115.8" fill="#1f77b4"/>
<rect x="1412.87" y="3193.75" width="9.3" height="136.75" fill="#1f77b4"/>
<rect x="1425.83" y="3180.6" width="9.3" height="149.9" fill="#1f77b4"/>
<rect x="1438.79" y="3174" width="9.3" height="156.5" fill="#1f77b4"/>
<rect x="1451.75" y="3154.2" width="9.3" height="176.3" fill="#1f77b4"/>
<rect x="1464.71" y="3141" width="9.3" height="189.5" fill="#1f77b4"/>
<rect x="1477.67" y="3130.7" width="9.3" height="199.8" fill="#1f77b4"/>
<rect x="1490.63" y="3108" width="9.3" height="222.5" fill="#1f77b4"/>
<rect x="1503.59" y="3102.2" width="9.3" height="228.3" fill="#1f77b4"/>
<rect x="1516.55" y="3100" width="9.3" height="230.5" fill="#1f77b4"/>
<rect x="1529.51" y="3094.6" width="9.3" height="235.9" fill="#1f77b4"/>
<rect x="1542.47" y="3073.75" width="9.3" height="256.75" fill="#1f77b4"/>
<rect x="1555.43" y="3072.2" width="9.3" height="258.3" fill="#1f77b4"/>
<rect x="1568.39" y="3073" width="9.3" height="257.5" fill="#1f77b4"/>
<rect x="1581.35" y="3078.2" width="9.3" height="252.3" fill="#1f77b4"/>
<rect x="1594.31" y="3080.7" width="9.3" height="249.8" fill="#1f77b4"/>
<rect x="1607.27" y="3053.5" width="9.3" height="277" fill="#1f77b4"/>
<rect x="1620.23" y="3054.9" width="9.3" height="275.6" fill="#1f77b4"/>
<rect x="1633.19" y="3056.7" width="9.3" height="273.8" fill="#1f77b4"/>
<rect x="1646.15" y="3056.7" width="9.3" height="273.8" fill="#1f77b4"/>
<rect x="1659.11" y="3062.9" width="9.3" height="267.6" fill="#1f77b4"/>
<rect x="1672.07" y="3070.3" width="9.3" height="260.2" fill="#1f77b4"/>
<rect x="1685.03" y="3048.6" width="9.3" height="281.9" fill="#1f77b4"/>
<rect x="1697.99" y="3053.5" width="9.3" height="277" fill="#1f77b4"/>
<rect x="1710.95" y="3077.9" width="9.3" height="252.6" fill="#1f77b4"/>
<rect x="1723.91" y="3316.4" width="9.3" height="14.1" fill="#ff7f0e"/>
<rect x="1736.87" y="3258.9" width="9.3" height="71.6" fill="#ff7f0e"/>
<rect x="1749.83" y="3302.9" width="9.3" height="27.6" fill="#ff7f0e"/>
<rect x="1762.79" y="2963.9" width="9.3" height="366.6" fill="#ff7f0e"/>
<rect x="1775.75" y="3273.1" width="9.3" height="57.4" fill="#ff7f0e"/>
<rect x="1788.71" y="3264.4" width="9.3" height="66.1" fill="#ff7f0e"/>
<rect x="1801.67" y="3035.6" width="9.3" height="294.9" fill="#ff7f0e"/>
<rect x="1814.63" y="3236.2" width="9.3" height="94.3" fill="#ff7f0e"/>
<rect x="1827.59" y="3216.6" width="9.3" height="113.9" fill="#ff7f0e"/>
<rect x="1840.55" y="3218.8" width="9.3" height="111.7" fill="#ff7f0e"/>
<rect x="1853.51" y="3206.9" width="9.3" height="123.6" fill="#ff7f0e"/>
<rect x="1866.47" y="3042.8" width="9.3" height="287.7" fill="#ff7f0e"/>
<rect x="1879.43" y="3190.7" width="9.3" height="139.8" fill="#ff7f0e"/>
<rect x="1892.39" y="3179.3" width="9.3" height="151.2" fill="#ff7f0e"/>
<rect x="1905.35" y="3174.4" width="9.3" height="156.1" fill="#ff7f0e"/>
<rect x="1918.31" y="3173.9" width="9.3" height="156.6" fill="#ff7f0e"/>
<rect x="1931.27" y="3173.9" width="9.3" height="156.6" fill="#ff7f0e"/>
<rect x="1944.23" y="3171" width="9.3" height="159.5" fill="#ff7f0e"/>
<rect x="1957.19" y="3172.7" width="9.3" height="157.8" fill="#ff7f0e"/>
<rect x="1970.15" y="3152.9" width="9.3" height="177.6" fill="#ff7f0e"/>
<rect x="1983.11" y="2930.6" width="9.3" height="399.9" fill="#ff7f0e"/>
<rect x="1996.07" y="3176.7" width="9.3" height="153.8" fill="#ff7f0e"/>
<rect x="2009.03" y="3170" width="9.3" height="160.5" fill="#ff7f0e"/>
<rect x="2021.99" y="3171.4" width="9.3" height="159.1" fill="#ff7f0e"/>
<rect x="2034.95" y="3171.4" width="9.3" height="159.1" fill="#ff7f0e"/>
<rect x="2047.91" y="3176.4" width="9.3" height="154.1" fill="#ff7f0e"/>
<rect x="2060.87" y="3178.1" width="9.3" height="152.4" fill="#ff7f0e"/>
<rect x="2073.83" y="3182.8" width="9.3" height="147.7" fill="#ff7f0e"/>
<rect x="2086.79" y="3175.1" width="9.3" height="155.4" fill="#ff7f0e"/>
<rect x="2099.75" y="3183.1" width="9.3" height="147.4" fill="#ff7f0e"/>
<rect x="2112.71" y="3202" width="9.3" height="128.5" fill="#ff7f0e"/>
<polyline points="1326.8,2529.1 1339.76,2528.3 1352.72,2525.9 1365.68,2523.2 1378.64,2518.9 1391.6,2519.5 1404.56,2517 1417.52,2516.29 1430.48,2517.8 1443.44,2520.8 1456.4,2521.7 1469.36,2520.4 1482.32,2518.2 1495.28,2514.49 1508.24,2518 1521.2,2520.8 1534.16,2523.2 1547.12,2525.2 1560.08,2526.5 1573.04,2526.3 1586,2525.4 1598.96,2524.3 1611.92,2523.9 1624.88,2522.8 1637.84,2522.6 1650.8,2522.6 1663.76,2523.7 1676.72,2522.8 1689.68,2521.5 1702.64,2521.9 1715.6,2523.9 1728.56,2529.5 1741.52,2529.3 1754.48,2529.3 1767.44,2497.79 1780.4,2528.5 1793.36,2528.3 1806.32,2518.7 1819.28,2527.6 1832.24,2526.7 1845.2,2527.4 1858.16,2527.4 1871.12,2521.7 1884.08,2526.9 1897.04,2526.3 1910,2526.5 1922.96,2526.9 1935.92,2527.4 1948.88,2527.4 1961.84,2527.8 1974.8,2526.5 1987.76,2509.29 2000.72,2527.8 2013.68,2527.4 2026.64,2527.2 2039.6,2527 2052.56,2526.9 2065.52,2526.9 2078.48,2527.2 2091.44,2526.9 2104.4,2527.2 2117.36,2527.8" fill="none" stroke="#800080" stroke-width="3.9" stroke-linejoin="round" stroke-linecap="square"/>
<rect x="1282.6" y="2456.4" width="879.5" height="874.1" fill="none" stroke="#000" stroke-opacity="0.8" stroke-width="2.4" stroke-linejoin="miter"/>
<line x1="1326.8" y1="3331.7" x2="1326.8" y2="3339.6" stroke="#000" stroke-opacity="0.8" stroke-width="2.4"/>
<text x="1326.8" y="3370.1" text-anchor="middle">0</text>
<line x1="1456.4" y1="3331.7" x2="1456.4" y2="3339.6" stroke="#000" stroke-opacity="0.8" stroke-width="2.4"/>
<text x="1456.4" y="3370.1" text-anchor="middle">10</text>
<line x1="1586" y1="3331.7" x2="1586" y2="3339.6" stroke="#000" stroke-opacity="0.8" stroke-width="2.4"/>
<text x="1586" y="3370.1" text-anchor="middle">20</text>
<line x1="1715.6" y1="3331.7" x2="1715.6" y2="3339.6" stroke="#000" stroke-opacity="0.8" stroke-width="2.4"/>
<text x="1715.6" y="3370.1" text-anchor="middle">30</text>
<line x1="1845.2" y1="3331.7" x2="1845.2" y2="3339.6" stroke="#000" stroke-opacity="0.8" stroke-width="2.4"/>
<text x="1845.2" y="3370.1" text-anchor="middle">40</text>
<line x1="1974.8" y1="3331.7" x2="1974.8" y2="3339.6" stroke="#000" stroke-opacity="0.8" stroke-width="2.4"/>
<text x="1974.8" y="3370.1" text-anchor="middle">50</text>
<line x1="2104.4" y1="3331.7" x2="2104.4" y2="3339.6" stroke="#000" stroke-opacity="0.8" stroke-width="2.4"/>
<text x="2104.4" y="3370.1" text-anchor="middle">60</text>
<line x1="1273.5" y1="3330.5" x2="1281.4" y2="3330.5" stroke="#000" stroke-opacity="0.8" stroke-width="2.4"/>
<text x="1264.2" y="3340.6" text-anchor="end">0.0</text>
<line x1="1273.5" y1="3170.46" x2="1281.4" y2="3170.46" stroke="#000" stroke-opacity="0.8" stroke-width="2.4"/>
<text x="1264.2" y="3180.56" text-anchor="end">0.1</text>
<line x1="1273.5" y1="3010.42" x2="1281.4" y2="3010.42" stroke="#000" stroke-opacity="0.8" stroke-width="2.4"/>
<text x="1264.2" y="3020.52" text-anchor="end">0.2</text>
<line x1="1273.5" y1="2850.38" x2="1281.4" y2="2850.38" stroke="#000" stroke-opacity="0.8" stroke-width="2.4"/>
<text x="1264.2" y="2860.48" text-anchor="end">0.3</text>
<line x1="1273.5" y1="2690.34" x2="1281.4" y2="2690.34" stroke="#000" stroke-opacity="0.8" stroke-width="2.4"/>
<text x="1264.2" y="2700.44" text-anchor="end">0.4</text>
<line x1="1273.5" y1="2530.3" x2="1281.4" y2="2530.3" stroke="#000" stroke-opacity="0.8" stroke-width="2.4"/>
<text x="1264.2" y="2540.4" text-anchor="end">0.5</text>
<text x="1722.35" y="3405.1" text-anchor="middle">Channel index</text>
<text transform="translate(1206 2893.45) rotate(-90)" text-anchor="middle">Value</text>
<rect x="1296" y="2831.95" width="505.6" height="122.6" rx="5.2" ry="5.2" fill="#fff" fill-opacity="0.8" stroke="#ccc" stroke-opacity="0.8" stroke-width="2.4"/>
<line x1="1306.1" y1="2852.95" x2="1358.1" y2="2852.95" stroke="#800080" stroke-width="3.9" stroke-linecap="square"/>
<rect x="1306.1" y="2882.45" width="52" height="18.4" fill="#1f77b4"/>
<rect x="1306.1" y="2920.95" width="52" height="18.4" fill="#ff7f0e"/>
<text x="1379" y="2862.45">beta coefficient of channel</text>
<text x="1379" y="2900.85">channel's mean of HSI</text>
<text x="1379" y="2939.35">channel's mean of feature map</text>
<text class="cap" x="1697.9" y="3499.6" text-anchor="middle">(f)</text>
</svg>
</body></html>
